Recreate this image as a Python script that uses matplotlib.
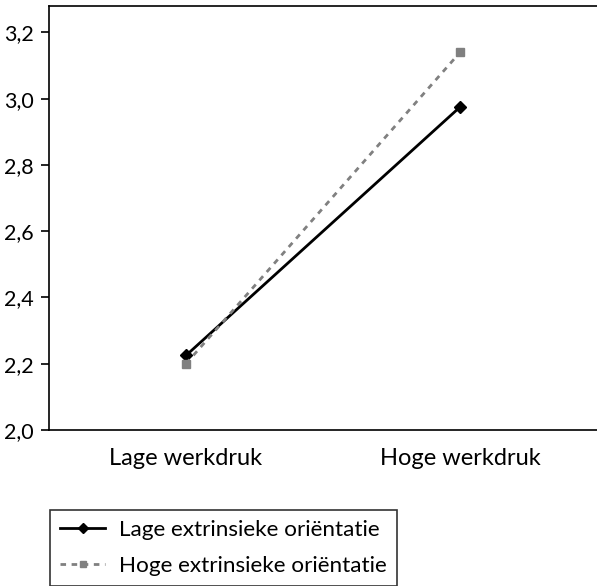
import matplotlib.pyplot as plt
from matplotlib.ticker import FuncFormatter

plt.rcParams['font.family'] = ['Lato', 'DejaVu Sans']

# data
categories = ['Lage werkdruk', 'Hoge werkdruk']
lage_ext = [2.225, 2.975]
hoge_ext = [2.20, 3.14]
series_labels = ['Lage extrinsieke oriëntatie', 'Hoge extrinsieke oriëntatie']

fig = plt.figure(figsize=(5.97, 5.86), dpi=100)
ax = fig.add_axes([49 / 597, 1 - 430 / 586, 1 - 49 / 597, 424 / 586])

x = range(len(categories))
ax.plot(x, lage_ext, color='black', lw=2, marker='D', ms=6, label=series_labels[0])
ax.plot(x, hoge_ext, color='#808080', lw=2, ls=(0, (2, 2)), marker='s', ms=6,
        label=series_labels[1])

ax.set_xlim(-0.5, 1.5)
ax.set_ylim(2.0, 3.28)
ax.set_yticks([2.0, 2.2, 2.4, 2.6, 2.8, 3.0, 3.2])
ax.yaxis.set_major_formatter(FuncFormatter(lambda v, p: f'{v:.1f}'.replace('.', ',')))
ax.set_xticks(list(x))
ax.set_xticklabels(categories)
ax.tick_params(axis='y', length=6, width=1.2, labelsize=15.5, pad=5)
ax.tick_params(axis='x', length=0, labelsize=17, pad=13)
ax.spines['right'].set_visible(False)
for s in ['left', 'top', 'bottom']:
    ax.spines[s].set_linewidth(1.2)

leg = fig.legend(loc='upper left', bbox_to_anchor=(50 / 597, 1 - 510 / 586),
                 borderaxespad=0, fontsize=16.2, frameon=True, fancybox=False,
                 edgecolor='black', handlelength=2.0, handletextpad=0.6,
                 borderpad=0.45, labelspacing=0.7, markerscale=0.8)
leg.get_frame().set_linewidth(1.2)

fig.savefig('out.png', dpi=100)
